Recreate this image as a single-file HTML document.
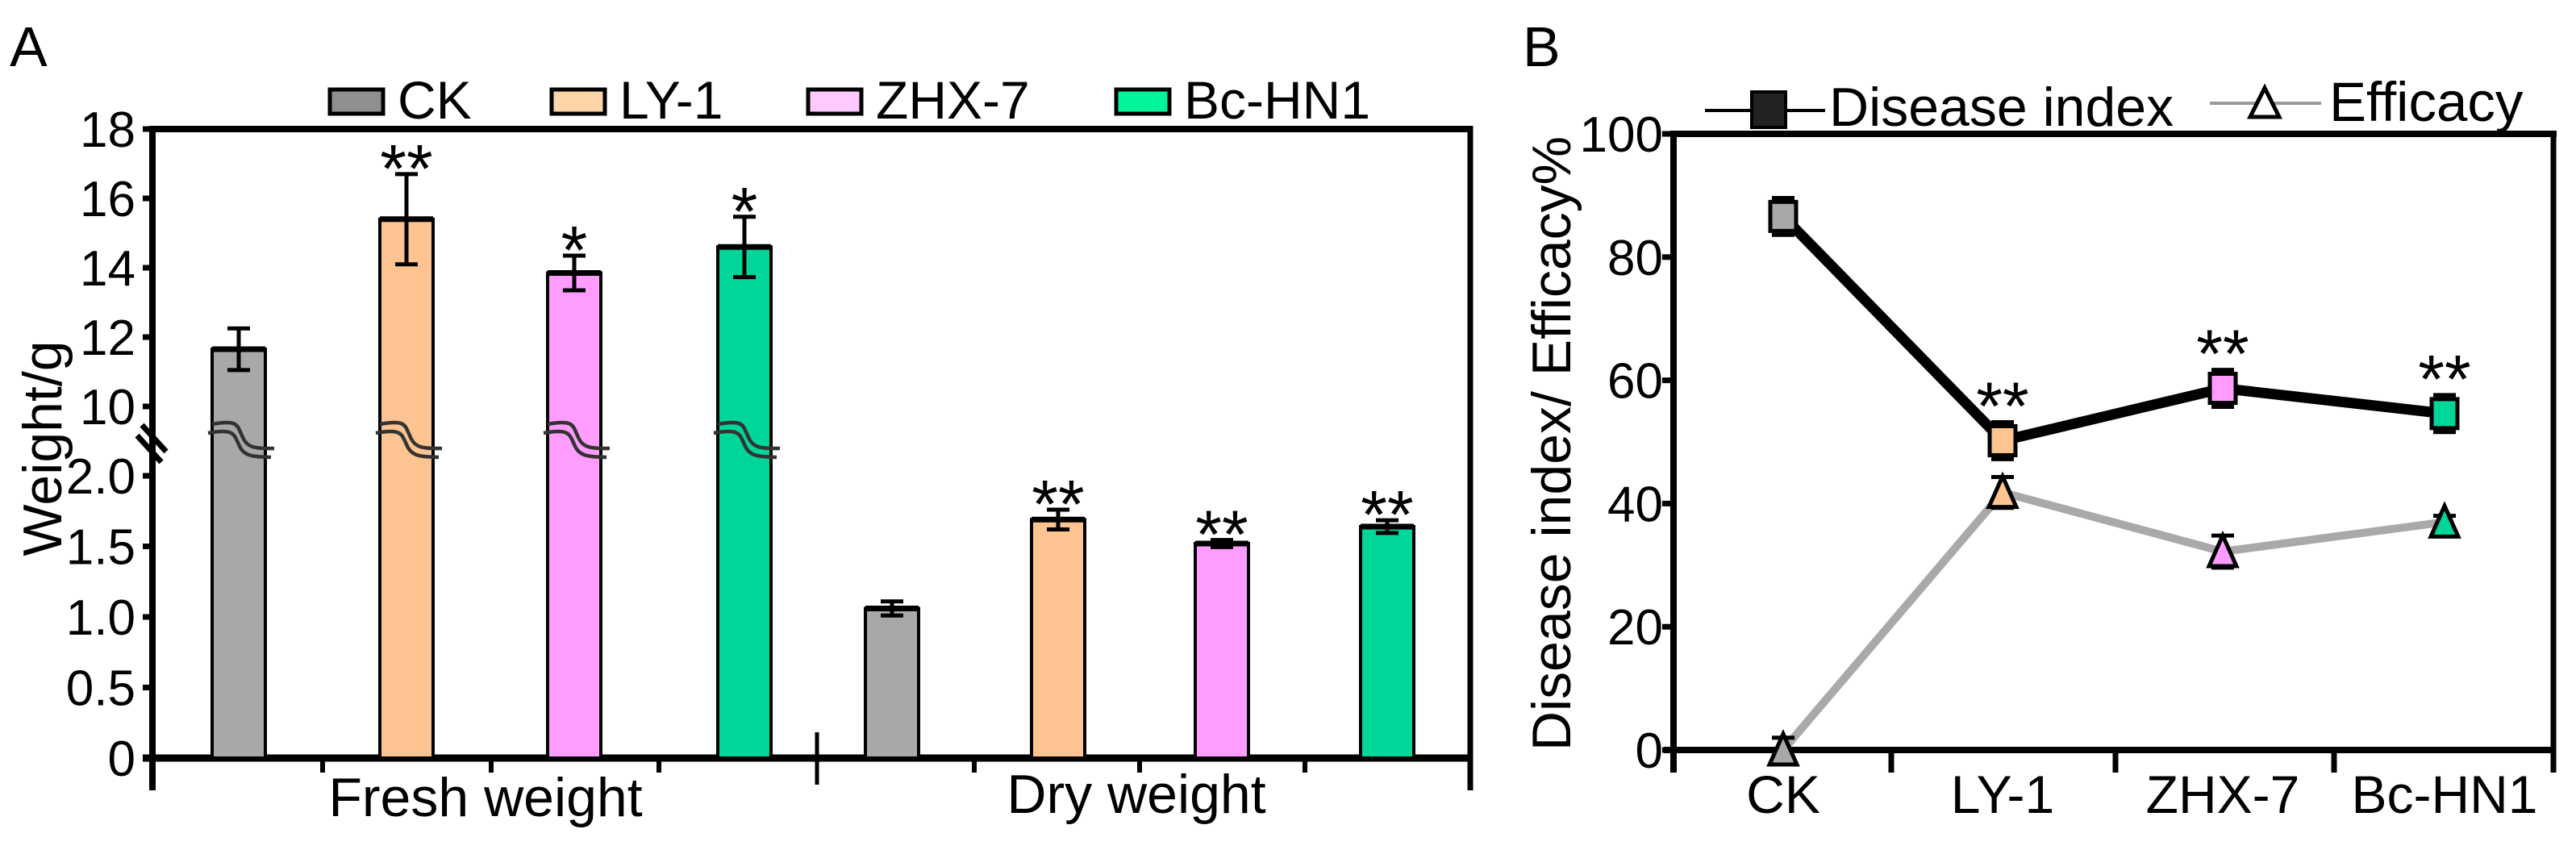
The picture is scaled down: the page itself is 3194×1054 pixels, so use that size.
<!DOCTYPE html>
<html><head><meta charset="utf-8"><style>
html,body{margin:0;padding:0;background:#fff;}
svg{display:block;font-family:"Liberation Sans",Arial,sans-serif;}
</style></head><body>
<svg id="c" width="3194" height="1054" viewBox="0 0 3194 1054" xmlns="http://www.w3.org/2000/svg">
<text x="12" y="82" font-size="70">A</text>
<text x="1888" y="82" font-size="70">B</text>
<g id="A"></g>
<g id="B"></g>
</svg>
<script>
// ---- Panel A data ----
const groupsA = ['CK','LY-1','ZHX-7','Bc-HN1'];
const freshVals = [11.65, 15.4, 13.85, 14.6];
const freshErr = [0.6, 1.3, 0.5, 0.87];
const freshStars = ['', '**', '*', '*'];
const dryVals = [1.06, 1.69, 1.52, 1.64];
const dryErr = [0.05, 0.07, 0.025, 0.045];
const dryStars = ['', '**', '**', '**'];
const upperTicks = [10, 12, 14, 16, 18];
const lowerTicks = [0, 0.5, 1.0, 1.5, 2.0];
const lowerTickLabels = ['0','0.5','1.0','1.5','2.0'];
// ---- Panel B data ----
const catsB = ['CK','LY-1','ZHX-7','Bc-HN1'];
const diseaseVals = [86.6, 50.2, 58.7, 54.6];
const diseaseErr = [3, 3, 3, 3];
const efficacyVals = [0, 41.8, 32.2, 37.0];
const efficacyErr = [2, 2.5, 2.6, 1.0];
const diseaseStars = ['', '**', '**', '**'];
const ticksB = [0, 20, 40, 60, 80, 100];

const fills = ['#a8a8a8','#fdc391','#ff9cff','#00d59a'];
const legFills = ['#8f8f8f','#fdd5a8','#ffc8ff','#00f59a'];
const NS='http://www.w3.org/2000/svg';
function mk(parent, tag, attrs, text){const el=document.createElementNS(NS,tag);for(const k in attrs)el.setAttribute(k,attrs[k]);if(text!==undefined)el.textContent=text;parent.appendChild(el);return el;}

// ===== Panel A =====
const A=document.getElementById('A');
const ax0=189, ax1=1823, aTop=160, aBase=940;
function yUp(v){return 504-(v-10)*43;}
function yLo(v){return aBase-v*175;}
function yA(v){return v>=9?yUp(v):yLo(v);}
let e;
e=mk(A,'line',{x1:ax0,y1:aTop,x2:ax1,y2:aTop,stroke:'#000','stroke-width':8});


e=mk(A,'line',{x1:ax1,y1:aTop-4,x2:ax1,y2:aBase+40,stroke:'#000','stroke-width':7});


e=mk(A,'line',{x1:ax0,y1:aTop-4,x2:ax0,y2:aBase+40,stroke:'#000','stroke-width':8});


e=mk(A,'line',{x1:ax0-12,y1:aBase,x2:ax1,y2:aBase,stroke:'#000','stroke-width':9});


e=mk(A,'path',{d:'M176 527 L206 560 M170 540 L200 573',stroke:'#000','stroke-width':7,fill:'none'});


upperTicks.forEach(t=>{const y=yUp(t);
 e=mk(A,'line',{x1:ax0-12,y1:y,x2:ax0,y2:y,stroke:'#000','stroke-width':7});
 
 
 e=mk(A,'text',{x:168,y:y+22,'font-size':62,'text-anchor':'end'},String(t));
 
 });
lowerTicks.forEach((t,i)=>{const y=yLo(t);
 e=mk(A,'line',{x1:ax0-12,y1:y,x2:ax0,y2:y,stroke:'#000','stroke-width':7});
 
 
 e=mk(A,'text',{x:168,y:y+22,'font-size':62,'text-anchor':'end'},lowerTickLabels[i]);
 
 });
[ax0,400,609,817,1208,1413,1618,ax1].forEach(x=>{
 e=mk(A,'line',{x1:x,y1:aBase,x2:x,y2:aBase+18,stroke:'#000','stroke-width':6});
 
 });
e=mk(A,'line',{x1:1013,y1:908,x2:1013,y2:973,stroke:'#000','stroke-width':5});


e=mk(A,'text',{x:602,y:1012,'font-size':68,'text-anchor':'middle'},'Fresh weight');


e=mk(A,'text',{x:1409,y:1008,'font-size':68,'text-anchor':'middle'},'Dry weight');


e=mk(A,'text',{x:0,y:0,'font-size':68,'text-anchor':'middle',transform:'translate(76 556) rotate(-90)'},'Weight/g');


const freshX=[296,504,712,923], dryX=[1106,1312,1515,1720], bw=66;
function bar(cx,v,err,fill,star,name){
 const yt=yA(v);
 const b=mk(A,'rect',{x:cx-bw/2,y:yt,width:bw,height:aBase-yt,fill:fill,stroke:'#000','stroke-width':4});
 
 
 mk(A,'line',{x1:cx-bw/2,y1:yt,x2:cx+bw/2,y2:yt,stroke:'#000','stroke-width':7});
 const y1=yA(v+err), y2=yA(v-err);
 const eb=mk(A,'path',{d:`M${cx} ${y1}V${y2}M${cx-14} ${y1}H${cx+14}M${cx-14} ${y2}H${cx+14}`,stroke:'#000','stroke-width':5,fill:'none'});
 
 
 if(star){const s=mk(A,'text',{x:cx,y:y1+22,'font-size':84,'text-anchor':'middle'},star);
  
  }
}
freshVals.forEach((v,i)=>{bar(freshX[i],v,freshErr[i],fills[i],freshStars[i],'bar-fresh-'+groupsA[i].toLowerCase());
 const cx=freshX[i];
 const w=mk(A,'path',{d:`M${cx-33} 526 C${cx} 520 ${cx-2} 528 ${cx+4} 540 C${cx+10} 556 ${cx+20} 556 ${cx+44} 556 M${cx-38} 537 C${cx-5} 531 ${cx-6} 539 ${cx} 551 C${cx+6} 566 ${cx+16} 566 ${cx+40} 567`,stroke:'#333','stroke-width':4.5,fill:'none'});
 
 });
dryVals.forEach((v,i)=>bar(dryX[i],v,dryErr[i],fills[i],dryStars[i],'bar-dry-'+groupsA[i].toLowerCase()));
const legX=[409,684,1002,1384];
groupsA.forEach((g,i)=>{
 const r=mk(A,'rect',{x:legX[i],y:111,width:66,height:30,fill:legFills[i],stroke:'#000','stroke-width':5});
 
 
 const t=mk(A,'text',{x:legX[i]+84,y:147,'font-size':66},g);
 
 });

// ===== Panel B =====
const B=document.getElementById('B');
const bx0=2075,bx1=3166,bTop=166,bBase=930;
const catX=[2211,2483,2756,3031];
function yB(v){return bBase-v*7.64;}
e=mk(B,'line',{x1:bx0-4,y1:bTop,x2:bx1+4,y2:bTop,stroke:'#000','stroke-width':8});


e=mk(B,'line',{x1:bx0,y1:bTop,x2:bx0,y2:958,stroke:'#000','stroke-width':8});


e=mk(B,'line',{x1:bx1,y1:bTop,x2:bx1,y2:958,stroke:'#000','stroke-width':7});


e=mk(B,'line',{x1:bx0-12,y1:bBase,x2:bx1,y2:bBase,stroke:'#000','stroke-width':8});


[2345,2623,2894].forEach(x=>{e=mk(B,'line',{x1:x,y1:bBase,x2:x,y2:958,stroke:'#000','stroke-width':7});
 
 });
ticksB.forEach(t=>{const y=yB(t);
 e=mk(B,'line',{x1:bx0-14,y1:y,x2:bx0,y2:y,stroke:'#000','stroke-width':7});
 
 
 e=mk(B,'text',{x:2062,y:y+22,'font-size':62,'text-anchor':'end'},String(t));
 
 });
catsB.forEach((c,i)=>{e=mk(B,'text',{x:catX[i],y:1008,'font-size':66,'text-anchor':'middle'},c);
 
 });
e=mk(B,'text',{x:0,y:0,'font-size':68,'text-anchor':'middle',transform:'translate(1947 550) rotate(-90)'},'Disease index/ Efficacy%');


e=mk(B,'polyline',{points:efficacyVals.map((v,i)=>catX[i]+','+yB(v)).join(' '),fill:'none',stroke:'#a9a9a9','stroke-width':10});


e=mk(B,'polyline',{points:diseaseVals.map((v,i)=>catX[i]+','+yB(v)).join(' '),fill:'none',stroke:'#000','stroke-width':13});


function ebar(cx,v,err){const y1=yB(v+err),y2=yB(v-err);
 const p=mk(B,'path',{d:`M${cx} ${y1}V${y2}M${cx-14} ${y1}H${cx+14}M${cx-14} ${y2}H${cx+14}`,stroke:'#000','stroke-width':5,fill:'none'});
 
 }
efficacyVals.forEach((v,i)=>{const cx=catX[i],y=yB(v);ebar(cx,v,efficacyErr[i]);
 const t=mk(B,'polygon',{points:`${cx},${y-20} ${cx-17},${y+18} ${cx+17},${y+18}`,fill:fills[i],stroke:'#000','stroke-width':5});
 
 });
diseaseVals.forEach((v,i)=>{const cx=catX[i],y=yB(v);ebar(cx,v,diseaseErr[i]);
 const s=mk(B,'rect',{x:cx-16,y:y-18,width:32,height:36,fill:fills[i],stroke:'#000','stroke-width':5});
 
 
 if(diseaseStars[i]){const st=mk(B,'text',{x:cx,y:y-14,'font-size':84,'text-anchor':'middle'},diseaseStars[i]);
  
  }});
e=mk(B,'line',{x1:2114,y1:137,x2:2263,y2:137,stroke:'#000','stroke-width':4});


e=mk(B,'rect',{x:2172,y:114,width:42,height:44,fill:'#222',stroke:'#000','stroke-width':4});


e=mk(B,'text',{x:2268,y:156,'font-size':68},'Disease index');


e=mk(B,'line',{x1:2740,y1:128,x2:2878,y2:128,stroke:'#999','stroke-width':4});


e=mk(B,'polygon',{points:'2808,109 2790,145 2826,145',fill:'#fff',stroke:'#000','stroke-width':5});


e=mk(B,'text',{x:2888,y:150,'font-size':69},'Efficacy');


</script>
</body></html>
